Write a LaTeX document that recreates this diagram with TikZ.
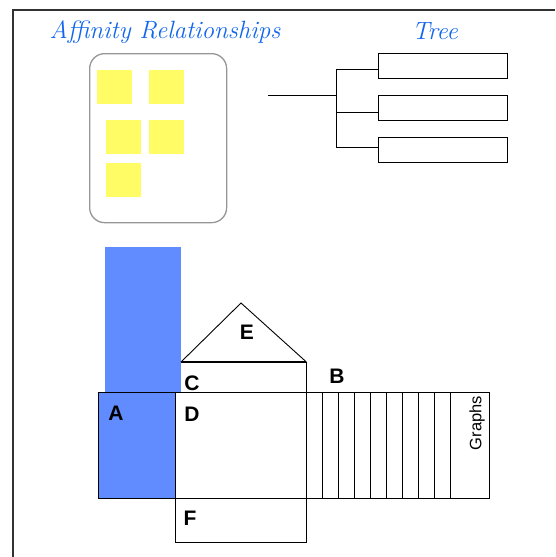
\documentclass[tikz,border=0pt]{standalone}
\usepackage{fontspec}
\newfontfamily\arial{Liberation Sans}
\usetikzlibrary{calc}
\definecolor{titleblue}{RGB}{17,102,238}
\definecolor{panelblue}{RGB}{96,140,255}
\definecolor{sticky}{RGB}{255,252,102}
\definecolor{framegray}{RGB}{50,50,50}
\definecolor{roundgray}{RGB}{150,150,150}
\begin{document}
\begin{tikzpicture}[x=1pt,y=-1pt,
  title/.style={text=titleblue,inner sep=0pt,font=\itshape\fontsize{25}{25}\selectfont},
  note/.style={fill=sticky,inner sep=0pt,anchor=north west,minimum width=35pt,minimum height=34pt},
  leaf/.style={draw,line width=1pt,inner sep=0pt,anchor=north west,minimum width=129pt,minimum height=25pt},
  cell/.style={draw,line width=0.9pt,inner sep=0pt,anchor=north west},
  wire/.style={line width=1pt},
  tag/.style={font=\arial\bfseries\fontsize{21}{21}\selectfont,inner sep=0pt}]
\useasboundingbox (0,0) rectangle (555,557);
% page frame
\draw[framegray,line width=2pt] (555,10) -- (13,10) -- (13,557);

% headings
\node[title] (htitle) at (165,32) {Affinity Relationships};
\node[title] (ttitle) at (435,31) {Tree};

% affinity panel with sticky notes
\node[draw=roundgray,line width=1.3pt,rounded corners=15pt,inner sep=0pt,
      anchor=north west,minimum width=137pt,minimum height=169pt] (panel) at (89,53) {};
\node[note] (n1) at (97,70) {};
\node[note] (n2) at (149,70) {};
\node[note] (n3) at (106,120) {};
\node[note] (n4) at (149,120) {};
\node[note] (n5) at (106,163) {};

% tree
\node[leaf] (t1) at (378,53) {};
\node[leaf] (t2) at (378,95) {};
\node[leaf] (t3) at (378,137) {};
\coordinate (root) at (268,95);
\coordinate (j) at (336,95);
\coordinate (b1) at (336,69);
\coordinate (b2) at (336,112);
\coordinate (b3) at (336,147);
\draw[wire] (root) -- (j);
\draw[wire] (b1) -- (b3);
\draw[wire] (b1) -- (b1 -| t1.west);
\draw[wire] (b2) -- (b2 -| t2.west);
\draw[wire] (b3) -- (b3 -| t3.west);

% unfolded box
\node[fill=panelblue,inner sep=0pt,anchor=north west,minimum width=76pt,minimum height=145pt] (col) at (105,247) {};
\node[cell,fill=panelblue,minimum width=77pt,minimum height=106pt] (A) at (98,392) {};
\node[cell,minimum width=131pt,minimum height=106pt] (D) at (175,392) {};
\node[cell,minimum width=131pt,minimum height=44pt] (F) at (175,498) {};
\node[inner sep=0pt,anchor=north west,minimum width=125pt,minimum height=30pt] (C) at (181,362) {};
\draw[line width=1.3pt] (C.north west) -- (C.north east);
\draw[line width=0.9pt] (C.north east) -- (C.south east);
\coordinate (apex) at (241,303);
\draw[line width=0.9pt] (C.north west) -- (apex) -- (C.north east);

% strip of pages
\foreach \i in {0,...,8}{
  \node[cell,minimum width=16pt,minimum height=106pt] (s\i) at ({306+16*\i},392) {};
}
\node[cell,minimum width=39pt,minimum height=106pt] (G) at (450,392) {};
\node[rotate=90,inner sep=0pt,font=\arial\fontsize{16.5}{16.5}\selectfont] (glabel) at (477,423) {Graphs};

% labels
\node[tag] (la) at (116,413) {A};
\node[tag] (lb) at (337,376) {B};
\node[tag] (lc) at (192,383) {C};
\node[tag] (ld) at (192,414) {D};
\node[tag] (le) at (247,332) {E};
\node[tag] (lf) at (190,518) {F};
\end{tikzpicture}
\end{document}
